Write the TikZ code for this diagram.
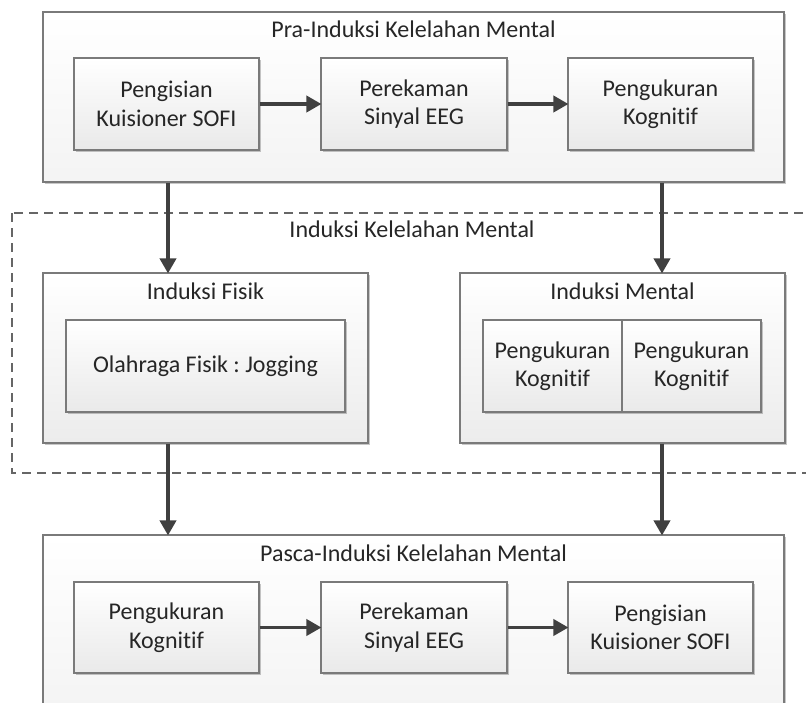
\documentclass[tikz,border=0pt]{standalone}
\usepackage{fontspec}
\setmainfont[Ligatures=NoCommon]{Carlito}
\usetikzlibrary{arrows.meta,shadows}

\definecolor{edge}{HTML}{7A7A7A}
\definecolor{arrowc}{HTML}{404040}
\definecolor{ink}{HTML}{262626}

\tikzset{
  box/.style={draw=edge, line width=1.1pt, rectangle, inner sep=0pt,
    top color=white, bottom color=gray!17,
    drop shadow={shadow xshift=1.5pt, shadow yshift=-1.5pt, opacity=0.22, fill=black}},
  outer/.style={box, bottom color=gray!9},
  step box/.style={box, align=center, text=ink, font=\fontsize{24}{28.5}\selectfont},
  title/.style={text=ink, font=\fontsize{24}{28.5}\selectfont, inner sep=0pt},
  flow/.style={draw=arrowc, line width=3.6pt,
    -{Triangle[length=15pt,width=16pt]}, shorten >=-1pt},
  group/.style={draw=gray!80!black, line width=1.1pt, dash pattern=on 9pt off 6pt},
}

\begin{document}
\frenchspacing
\begin{tikzpicture}[x=1pt, y=-1pt]
  \clip (0,0) rectangle (806,702);

  % dashed induction group
  \draw[group] (12,213) rectangle (830,473);
  \node[title] (tgroup) at (412,229) {Induksi Kelelahan Mental};

  % pre-induction stage
  \node[outer, minimum width=741pt, minimum height=170pt] (pre) at (413.5,97) {};
  \node[title] (tpre) at (413.5,29) {Pra-Induksi Kelelahan Mental};
  \node[step box, minimum width=185pt, minimum height=92pt] (p1) at (166.5,104) {Pengisian\\Kuisioner SOFI};
  \node[step box, minimum width=186pt, minimum height=92pt] (p2) at (414,104) {Perekaman\\Sinyal EEG};
  \node[step box, minimum width=185pt, minimum height=92pt] (p3) at (660.5,104) {Pengukuran\\Kognitif};

  % physical induction
  \node[outer, bottom color=gray!15, minimum width=325pt, minimum height=170pt] (fis) at (205.5,358) {};
  \node[title] (tfis) at (205.5,291) {Induksi Fisik};
  \node[step box, minimum width=279pt, minimum height=92pt] (jog) at (205.5,366) {Olahraga Fisik : Jogging};

  % mental induction
  \node[outer, bottom color=gray!15, minimum width=325pt, minimum height=170pt] (men) at (622.5,358) {};
  \node[title] (tmen) at (622.5,291) {Induksi Mental};
  \node[step box, minimum width=139pt, minimum height=92pt] (m1) at (552.5,366) {Pengukuran\\Kognitif};
  \node[step box, minimum width=139pt, minimum height=92pt, drop shadow={opacity=0}] (m2) at (691.5,366) {Pengukuran\\Kognitif};

  % post-induction stage
  \node[outer, minimum width=741pt, minimum height=180pt] (post) at (413.5,625) {};
  \node[title] (tpost) at (413.5,553) {Pasca-Induksi Kelelahan Mental};
  \node[step box, minimum width=185pt, minimum height=91pt] (q1) at (166.5,627.5) {Pengukuran\\Kognitif};
  \node[step box, minimum width=186pt, minimum height=91pt] (q2) at (414,627.5) {Perekaman\\Sinyal EEG};
  \node[step box, minimum width=185pt, minimum height=91pt] (q3) at (660.5,627.5) {Pengisian\\Kuisioner SOFI};

  % horizontal flows
  \draw[flow] (p1) -- (p2);
  \draw[flow] (p2) -- (p3);
  \draw[flow] (q1) -- (q2);
  \draw[flow] (q2) -- (q3);

  % vertical flows
  \coordinate (lx) at (168,0);
  \coordinate (rx) at (662,0);
  \draw[flow] (pre.south -| lx) -- (fis.north -| lx);
  \draw[flow] (pre.south -| rx) -- (men.north -| rx);
  \draw[flow] (fis.south -| lx) -- (post.north -| lx);
  \draw[flow] (men.south -| rx) -- (post.north -| rx);
\end{tikzpicture}
\end{document}
